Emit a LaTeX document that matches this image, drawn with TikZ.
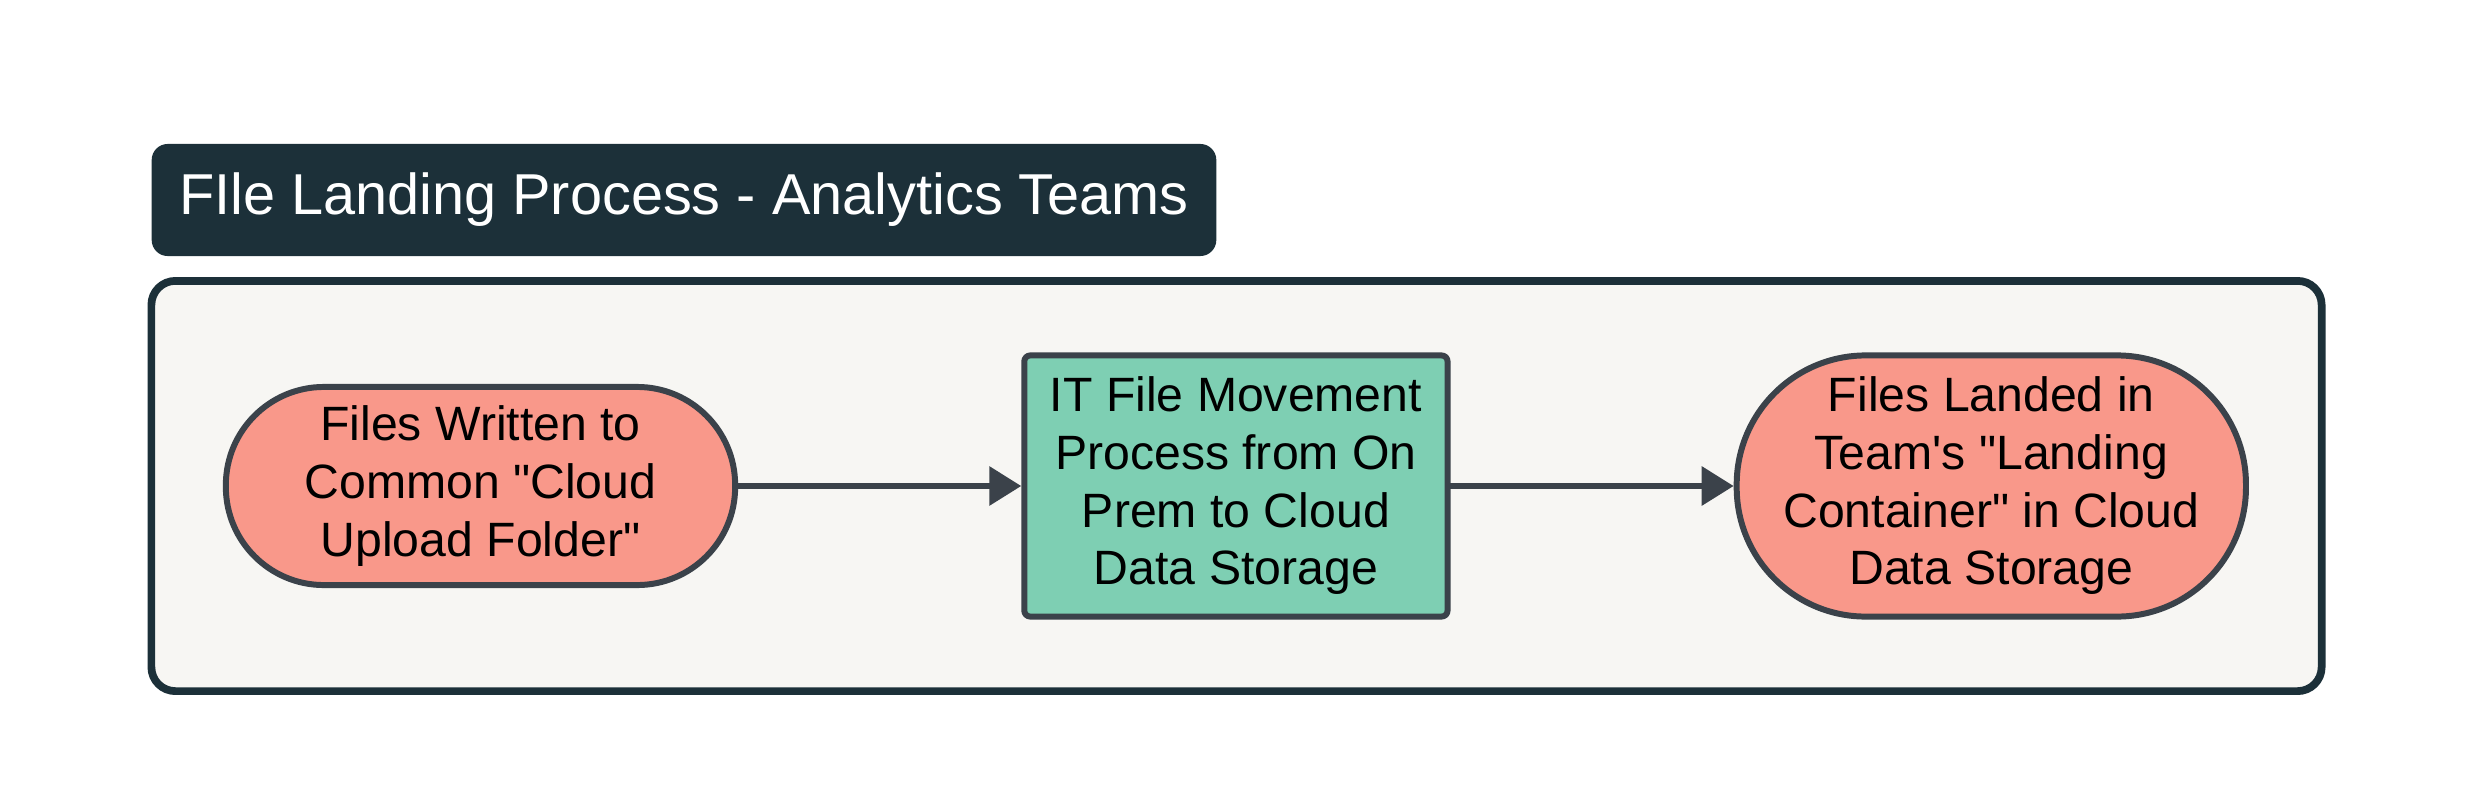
\documentclass[tikz,border=0pt]{standalone}
\usepackage{fontspec}
\setmainfont{Liberation Sans}
\usetikzlibrary{positioning,arrows.meta}
\definecolor{navy}{HTML}{1C3039}
\definecolor{lanebg}{HTML}{F7F6F3}
\definecolor{salmon}{HTML}{F9988A}
\definecolor{mint}{HTML}{7ECFB3}
\definecolor{edge}{HTML}{3B424A}

\begin{document}
\begin{tikzpicture}[x=0.01cm,y=-0.01cm,line cap=round,line join=round,node distance=2.83cm,
  lane/.style={draw=navy,line width=2.2pt,fill=lanebg,rounded corners=0.24cm,minimum width=21.69cm,minimum height=4.1cm},
  banner/.style={fill=navy,text=white,rounded corners=0.16cm,minimum width=10.64cm,minimum height=1.12cm,font=\fontsize{16.4}{19.7}\selectfont},
  terminal/.style={draw=edge,line width=1.7pt,fill=salmon,align=center,minimum width=5.09cm,font=\fontsize{13.7}{16.4}\selectfont},
  procbox/.style={draw=edge,line width=1.7pt,fill=mint,align=center,rounded corners=0.06cm,minimum width=4.23cm,minimum height=2.61cm,font=\fontsize{13.7}{16.4}\selectfont},
  flow/.style={draw=edge,line width=1.8pt,-{Triangle[length=0.32cm,width=0.38cm]}}]
\useasboundingbox (0,0) rectangle (2479,806);

% swimlane and its heading
\node[lane] (lane) at (1236.5,486) {};
\node[banner] (title) at (684,200) {FIle Landing Process - Analytics Teams};

% steps
\node[terminal,minimum height=1.98cm,rounded corners=0.98cm] (written) at (480.5,486)
  {Files Written to\\Common \textquotedbl Cloud\\Upload Folder\textquotedbl};
\node[procbox,right=of written] (move)
  {IT File Movement\\Process from On\\Prem to Cloud\\Data Storage};
\node[terminal,minimum height=2.61cm,rounded corners=1.29cm,right=of move] (landed)
  {Files Landed in\\Team\textquotesingle s \textquotedbl Landing\\Container\textquotedbl{} in Cloud\\Data Storage};

\draw[flow] (written) -- (move);
\draw[flow] (move) -- (landed);

\end{tikzpicture}
\end{document}
